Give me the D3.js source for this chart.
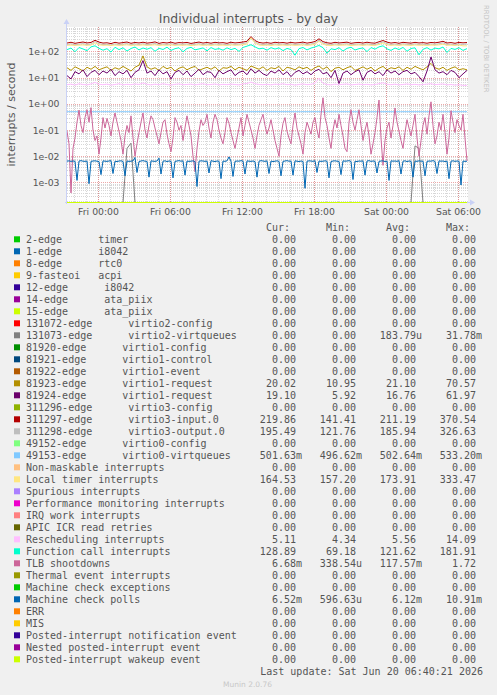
<!DOCTYPE html>
<html>
<head>
<meta charset="utf-8">
<script src="https://cdn.jsdelivr.net/npm/d3@7"></script>
<style>
  html, body { margin: 0; padding: 0; background: #f0f0f0; }
  svg { display: block; }
  text { fill: #555; }
  .mono { font-family: 'DejaVu Sans Mono', monospace; font-size: 10px; }
  .sans { font-family: 'DejaVu Sans', sans-serif; }
</style>
</head>
<body>
<svg class="canvas" width="497" height="695"></svg>
<script>
'use strict';

// ---- data ----
const parseTime = d3.timeParse('%Y-%m-%d %H:%M'),
  startTime = parseTime('2026-06-18 21:25'),
  endTime = parseTime('2026-06-20 06:45');

const xTickTimes = ['2026-06-19 00:00', '2026-06-19 06:00', '2026-06-19 12:00',
  '2026-06-19 18:00', '2026-06-20 00:00', '2026-06-20 06:00'];
const yTickValues = [1e-3, 1e-2, 1e-1, 1, 10, 100],
  yTickLabels = ['1e-03', '1e-02', '1e-01', '1e+00', '1e+01', '1e+02'];

const names = [
  '2-edge      timer',
  '1-edge      i8042',
  '8-edge      rtc0',
  '9-fasteoi   acpi',
  '12-edge      i8042',
  '14-edge      ata_piix',
  '15-edge      ata_piix',
  '131072-edge      virtio2-config',
  '131073-edge      virtio2-virtqueues',
  '81920-edge      virtio1-config',
  '81921-edge      virtio1-control',
  '81922-edge      virtio1-event',
  '81923-edge      virtio1-request',
  '81924-edge      virtio1-request',
  '311296-edge      virtio3-config',
  '311297-edge      virtio3-input.0',
  '311298-edge      virtio3-output.0',
  '49152-edge      virtio0-config',
  '49153-edge      virtio0-virtqueues',
  'Non-maskable interrupts',
  'Local timer interrupts',
  'Spurious interrupts',
  'Performance monitoring interrupts',
  'IRQ work interrupts',
  'APIC ICR read retries',
  'Rescheduling interrupts',
  'Function call interrupts',
  'TLB shootdowns',
  'Thermal event interrupts',
  'Machine check exceptions',
  'Machine check polls',
  'ERR',
  'MIS',
  'Posted-interrupt notification event',
  'Nested posted-interrupt event',
  'Posted-interrupt wakeup event',
];

const colors = [
  '#00CC00', '#0066B3', '#FF8000', '#FFCC00', '#330099', '#990099', '#CCFF00',
  '#FF0000', '#808080', '#008F00', '#00487D', '#B35A00', '#B38F00', '#6B006B',
  '#8FB300', '#B30000', '#BEBEBE', '#80FF80', '#80C9FF', '#FFC080', '#FFE680',
  '#AA80FF', '#EE00CC', '#FF8080', '#666600', '#FFBFFF', '#00FFCC', '#CC6699',
  '#999900', '#00CC00', '#0066B3', '#FF8000', '#FFCC00', '#330099', '#990099',
  '#CCFF00',
];

const curValues = ['0.00', '0.00', '0.00', '0.00', '0.00', '0.00', '0.00', '0.00', '0.00',
  '0.00', '0.00', '0.00', '20.02', '19.10', '0.00', '219.86', '195.49', '0.00', '501.63m',
  '0.00', '164.53', '0.00', '0.00', '0.00', '0.00', '5.11', '128.89', '6.68m', '0.00',
  '0.00', '6.52m', '0.00', '0.00', '0.00', '0.00', '0.00'];
const minValues = ['0.00', '0.00', '0.00', '0.00', '0.00', '0.00', '0.00', '0.00', '0.00',
  '0.00', '0.00', '0.00', '10.95', '5.92', '0.00', '141.41', '121.76', '0.00', '496.62m',
  '0.00', '157.20', '0.00', '0.00', '0.00', '0.00', '4.34', '69.18', '338.54u', '0.00',
  '0.00', '596.63u', '0.00', '0.00', '0.00', '0.00', '0.00'];
const avgValues = ['0.00', '0.00', '0.00', '0.00', '0.00', '0.00', '0.00', '0.00', '183.79u',
  '0.00', '0.00', '0.00', '21.10', '16.76', '0.00', '211.19', '185.94', '0.00', '502.64m',
  '0.00', '173.91', '0.00', '0.00', '0.00', '0.00', '5.56', '121.62', '117.57m', '0.00',
  '0.00', '6.12m', '0.00', '0.00', '0.00', '0.00', '0.00'];
const maxValues = ['0.00', '0.00', '0.00', '0.00', '0.00', '0.00', '0.00', '0.00', '31.78m',
  '0.00', '0.00', '0.00', '70.57', '61.97', '0.00', '370.54', '326.63', '0.00', '533.20m',
  '0.00', '333.47', '0.00', '0.00', '0.00', '0.00', '14.09', '181.91', '1.72', '0.00',
  '0.00', '10.91m', '0.00', '0.00', '0.00', '0.00', '0.00'];

// samples every 20 minutes from start to end (101 points)
const virtio3Input = [210, 225, 205, 218, 230, 212, 222, 268, 228, 210,
  215, 200, 224, 208, 219, 230, 205, 221, 212, 226,
  209, 217, 232, 204, 220, 211, 227, 206, 219, 214,
  222, 203, 216, 229, 210, 221, 207, 224, 213, 218,
  205, 226, 212, 219, 230, 245, 370, 260, 222, 210,
  218, 206, 225, 214, 220, 208, 223, 211, 217, 228,
  209, 221, 240, 305, 238, 215, 206, 224, 212, 219,
  227, 205, 216, 222, 210, 226, 213, 208, 235, 262,
  228, 210, 220, 206, 224, 215, 209, 223, 212, 218,
  207, 221, 214, 226, 245, 211, 219, 206, 223, 214, 220];
const virtio3Output = [185, 196, 180, 190, 199, 184, 192, 240, 198, 183,
  188, 176, 195, 181, 190, 200, 179, 193, 185, 197,
  182, 189, 202, 178, 192, 184, 198, 180, 191, 186,
  194, 177, 188, 199, 183, 193, 180, 195, 186, 190,
  179, 197, 185, 191, 201, 215, 326, 230, 194, 183,
  190, 179, 196, 186, 192, 181, 195, 184, 189, 199,
  182, 193, 210, 270, 208, 187, 179, 196, 185, 191,
  198, 178, 188, 194, 183, 197, 186, 181, 205, 232,
  199, 183, 192, 179, 196, 187, 182, 195, 185, 190,
  180, 193, 186, 197, 214, 184, 191, 179, 194, 187, 195];
const localTimer = [172, 175, 170, 174, 178, 171, 176, 215, 180, 172,
  174, 169, 177, 171, 175, 179, 170, 176, 172, 178,
  171, 174, 180, 169, 176, 172, 178, 170, 175, 173,
  177, 168, 174, 179, 171, 176, 170, 177, 172, 175,
  169, 178, 172, 175, 181, 195, 333, 210, 176, 171,
  175, 169, 178, 172, 176, 170, 177, 171, 174, 179,
  170, 176, 190, 245, 188, 173, 169, 177, 172, 175,
  178, 168, 174, 177, 171, 178, 172, 170, 186, 212,
  180, 171, 176, 169, 178, 173, 170, 177, 172, 175,
  169, 176, 173, 178, 190, 172, 175, 169, 177, 164, 165];
const functionCall = [118, 135, 98, 142, 125, 108, 150, 165, 132, 112,
  128, 95, 145, 118, 138, 104, 130, 148, 115, 136,
  122, 140, 102, 133, 119, 146, 110, 128, 139, 97,
  131, 144, 116, 125, 137, 106, 141, 120, 129, 112,
  138, 118, 132, 101, 143, 160, 181, 150, 126, 134,
  112, 140, 124, 137, 108, 131, 119, 72, 128, 142,
  115, 135, 150, 170, 140, 86, 127, 118, 139, 104,
  132, 145, 114, 128, 137, 99, 141, 123, 150, 165,
  126, 110, 136, 119, 143, 102, 130, 138, 75, 121,
  140, 113, 135, 126, 148, 92, 131, 120, 139, 110, 129];
const virtio1Req23 = [24, 19, 26, 22, 18, 25, 21, 27, 20, 23,
  26, 19, 24, 21, 27, 22, 18, 25, 30, 68,
  26, 21, 24, 19, 27, 22, 25, 18, 23, 26,
  20, 24, 27, 19, 22, 25, 21, 26, 18, 24,
  23, 27, 20, 25, 22, 19, 28, 24, 21, 26,
  19, 24, 22, 27, 18, 25, 23, 20, 26, 22,
  25, 19, 24, 28, 21, 26, 17, 23, 25, 20,
  24, 27, 19, 22, 26, 21, 25, 18, 23, 27,
  20, 24, 22, 26, 19, 25, 21, 27, 23, 20,
  26, 35, 24, 21, 25, 19, 23, 26, 20, 22, 20];
const virtio1Req24 = [12, 9, 17, 14, 20, 11, 16, 19, 13, 18,
  15, 21, 12, 17, 14, 19, 10, 16, 20, 45,
  15, 18, 12, 20, 14, 17, 9, 16, 19, 13,
  18, 11, 15, 21, 13, 17, 16, 10, 19, 14,
  17, 20, 12, 16, 18, 13, 22, 15, 19, 14,
  12, 18, 15, 20, 13, 17, 11, 16, 19, 14,
  17, 13, 18, 21, 14, 16, 10, 19, 6, 15,
  18, 13, 17, 20, 8, 16, 19, 14, 17, 12,
  20, 15, 18, 13, 17, 19, 14, 16, 11, 7,
  18, 62, 20, 15, 17, 13, 19, 16, 10, 14, 19];
const rescheduling = [5.4, 5.7, 5.2, 5.9, 5.5, 5.3, 5.8, 6.6, 5.6, 5.4,
  5.7, 5.2, 5.5, 5.9, 5.3, 5.6, 5.4, 5.8, 5.5, 6.3,
  5.6, 5.3, 5.7, 5.4, 5.9, 5.5, 5.2, 5.6, 5.8, 5.4,
  5.5, 5.7, 5.3, 5.6, 5.9, 5.4, 5.5, 5.8, 5.3, 5.6,
  5.4, 5.7, 5.5, 5.3, 5.8, 6.0, 6.8, 5.9, 5.5, 5.4,
  5.6, 5.3, 5.7, 5.5, 5.9, 5.4, 5.6, 5.2, 5.5, 5.8,
  5.4, 5.6, 6.2, 9.5, 6.1, 5.5, 5.3, 5.7, 5.4, 5.6,
  5.8, 5.3, 5.5, 5.7, 5.4, 5.6, 5.3, 5.5, 5.9, 6.4,
  5.6, 5.4, 5.7, 5.3, 5.5, 5.8, 5.4, 5.6, 5.3, 5.5,
  5.7, 5.9, 5.4, 5.6, 5.8, 5.3, 5.5, 5.2, 5.4, 5.1, 5.1];
const virtio2Queues = [0, 0, 0, 0, 0, 0, 0, 0, 0, 0,
  0, 0, 0, 0, 0, 0.02, 0.0318, 0, 0, 0,
  0, 0, 0, 0, 0, 0, 0, 0, 0, 0,
  0, 0, 0, 0, 0, 0, 0, 0, 0, 0,
  0, 0, 0, 0, 0, 0, 0, 0, 0, 0,
  0, 0, 0, 0, 0, 0, 0, 0, 0, 0,
  0, 0, 0, 0, 0, 0, 0, 0, 0, 0,
  0, 0, 0, 0, 0, 0, 0, 0, 0, 0,
  0, 0, 0, 0, 0, 0, 0, 0.025, 0.02, 0,
  0, 0, 0, 0, 0, 0, 0, 0, 0, 0, 0];
// TLB shootdowns: every 10 minutes (201 points)
const tlbShootdowns = [
  0.09, 0.03, 0.0004, 0.02, 0.05, 0.2, 0.58, 0.15, 0.08, 0.3,
  0.6, 0.2, 0.72, 0.1, 0.04, 0.06, 0.012, 0.05, 0.3, 0.12,
  0.28, 0.15, 0.06, 0.2, 0.45, 0.2, 0.09, 0.04, 0.012, 0.06,
  0.15, 0.08, 0.35, 0.05, 0.01, 0.03, 0.08, 0.2, 0.45, 0.1,
  0.05, 0.15, 0.35, 0.25, 0.12, 0.06, 0.03, 0.08, 0.2, 0.25,
  0.07, 0.03, 0.015, 0.05, 0.3, 0.2, 0.1, 0.15, 0.04, 0.12,
  0.35, 0.15, 0.06, 0.01, 0.0026, 0.02, 0.09, 0.25, 0.15, 0.2,
  0.4, 0.12, 0.05, 0.2, 0.4, 0.25, 0.1, 0.05, 0.03, 0.08,
  0.3, 0.18, 0.08, 0.04, 0.02, 0.05, 0.12, 0.3, 0.06, 0.15,
  0.4, 0.2, 0.1, 0.05, 0.02, 0.06, 0.15, 0.25, 0.4, 0.15,
  0.07, 0.12, 0.25, 0.1, 0.04, 0.02, 0.01, 0.06, 0.18, 0.3,
  0.09, 0.05, 0.03, 0.15, 0.45, 0.12, 0.06, 0.03, 0.012, 0.08,
  0.2, 0.12, 0.07, 0.2, 0.3, 0.1, 0.05, 0.4, 1.72, 0.3,
  0.15, 0.05, 0.02, 0.1, 0.25, 0.12, 0.4, 0.15, 0.06, 0.02,
  0.015, 0.2, 0.6, 0.2, 0.1, 0.25, 0.6, 0.15, 0.04, 0.1,
  0.2, 0.06, 0.012, 0.03, 0.08, 0.3, 1.4, 0.05, 0.0045, 0.04,
  0.12, 0.2, 0.05, 0.15, 0.7, 0.2, 0.09, 0.04, 0.02, 0.08,
  0.25, 0.12, 0.06, 0.15, 0.4, 0.05, 0.01, 0.04, 0.15, 0.3,
  0.07, 0.35, 1.2, 0.15, 0.03, 0.06, 0.2, 0.1, 0.4, 0.08,
  0.012, 0.05, 0.55, 0.2, 0.08, 0.25, 0.15, 0.1, 0.4, 0.05,
  0.0067];
// machine check polls: every 10 minutes (201 points), hourly dip
const mcePolls = [
  0.0065, 0.0067, 0.0064, 0.0066, 0.0065, 0.0012,
  0.0066, 0.0068, 0.0065, 0.0064, 0.0066, 0.0009,
  0.0064, 0.0066, 0.0067, 0.0065, 0.0063, 0.002,
  0.0067, 0.0065, 0.0064, 0.0066, 0.0068, 0.0022,
  0.0065, 0.0063, 0.0066, 0.0067, 0.0064, 0.0018,
  0.0066, 0.0064, 0.0065, 0.0067, 0.009, 0.0024,
  0.0063, 0.0066, 0.0068, 0.0065, 0.0064, 0.0016,
  0.0067, 0.0065, 0.0064, 0.0066, 0.0085, 0.0021,
  0.0065, 0.0067, 0.0063, 0.0066, 0.0065, 0.0015,
  0.0064, 0.0066, 0.0068, 0.0065, 0.0067, 0.0019,
  0.0066, 0.0064, 0.0065, 0.0067, 0.0063, 0.0007,
  0.0065, 0.0067, 0.0066, 0.0064, 0.0066, 0.0023,
  0.0068, 0.0065, 0.0063, 0.0066, 0.0065, 0.0014,
  0.0066, 0.0064, 0.0067, 0.0095, 0.0065, 0.0017,
  0.0064, 0.0066, 0.0065, 0.0068, 0.0066, 0.0021,
  0.0067, 0.0065, 0.0064, 0.0066, 0.0063, 0.0016,
  0.0065, 0.0068, 0.0066, 0.0064, 0.0067, 0.0022,
  0.0066, 0.0063, 0.0065, 0.0067, 0.0064, 0.0018,
  0.0064, 0.0066, 0.0068, 0.0065, 0.0066, 0.0019,
  0.0067, 0.0065, 0.0063, 0.0066, 0.0064, 0.0006,
  0.0065, 0.0067, 0.0066, 0.0064, 0.0068, 0.0024,
  0.0066, 0.0064, 0.0065, 0.0067, 0.0065, 0.0015,
  0.0063, 0.0066, 0.0067, 0.0065, 0.0064, 0.002,
  0.0067, 0.0065, 0.0066, 0.0068, 0.0064, 0.0013,
  0.0065, 0.0063, 0.0066, 0.0065, 0.0067, 0.0019,
  0.0066, 0.0068, 0.0064, 0.0066, 0.0065, 0.0023,
  0.0064, 0.0066, 0.0067, 0.0063, 0.0066, 0.0012,
  0.0067, 0.0065, 0.0066, 0.0064, 0.0068, 0.0021,
  0.0065, 0.0067, 0.0063, 0.0066, 0.0065, 0.0016,
  0.0066, 0.0064, 0.0067, 0.0065, 0.0066, 0.0018,
  0.0064, 0.0066, 0.0065, 0.0068, 0.0064, 0.0022,
  0.0067, 0.0065, 0.0066, 0.0063, 0.0066, 0.0014,
  0.0065, 0.0067, 0.0064, 0.0066, 0.0065, 0.0008,
  0.0066, 0.0064, 0.0065];
// virtio0-virtqueues, sampled every ~2h47m (13 points)
const virtio0Queues = [0.502, 0.503, 0.5, 0.505, 0.502, 0.501, 0.504, 0.502, 0.503, 0.5,
  0.502, 0.501, 0.502];
// every other counter sat at zero all day
const idleLine = [0, 0];

const sampleTable = {
  8: virtio2Queues, 12: virtio1Req23, 13: virtio1Req24, 15: virtio3Input,
  16: virtio3Output, 18: virtio0Queues, 20: localTimer, 25: rescheduling,
  26: functionCall, 27: tlbShootdowns, 30: mcePolls,
};

// ---- layout ----
const svg = d3.select('.canvas'),
  plot = { left: 67, right: 467, top: 27, bottom: 202 },
  legendTop = 239.3,
  rowH = 12,
  colEnds = [302, 362, 422, 482],
  axisColor = '#c9d1f6',
  minorColor = 'rgba(150,150,150,0.38)',
  majorColor = 'rgba(220,80,80,0.5)';

const x = d3.scaleTime([startTime, endTime], [plot.left, plot.right]),
  y = d3.scaleLog([1.8e-4, 861], [plot.bottom, plot.top]).clamp(true);

// zeros can't sit on a log axis: rrdtool pins them to the bottom row
function yOf(v) {
  return v > 0 ? y(v) : plot.bottom + 0.5;
}
// keep runs of spaces in monospace text
const nb = s => s.replace(/ /g, '\u00a0');

svg.append('rect').attr('width', 497).attr('height', 695).attr('fill', '#f0f0f0');
svg
  .append('rect')
  .attr('x', plot.left)
  .attr('y', plot.top)
  .attr('width', plot.right - plot.left + 1)
  .attr('height', plot.bottom - plot.top)
  .attr('fill', '#fff');

// grid: minor first, major on top
const grid = svg.append('g').attr('shape-rendering', 'crispEdges');
const minorY = [];
for (let e = -4; e <= 2; e++)
  for (let m = 2; m <= 9; m++) {
    const v = m * Math.pow(10, e);
    if (v > y.domain()[0] && v < y.domain()[1]) minorY.push(v);
  }
const minorX = d3.timeHour.range(startTime, endTime),
  majorX = xTickTimes.map(parseTime);

function hLines(data, color) {
  grid
    .append('g')
    .selectAll('line')
    .data(data)
    .enter()
    .append('line')
    .attr('x1', plot.left)
    .attr('x2', plot.right + 1)
    .attr('y1', d => Math.round(y(d)) + 0.5)
    .attr('y2', d => Math.round(y(d)) + 0.5)
    .attr('stroke', color)
    .attr('stroke-dasharray', '1,1');
}
function vLines(data, color) {
  grid
    .append('g')
    .selectAll('line')
    .data(data)
    .enter()
    .append('line')
    .attr('x1', d => Math.round(x(d)) + 0.5)
    .attr('x2', d => Math.round(x(d)) + 0.5)
    .attr('y1', plot.top)
    .attr('y2', plot.bottom)
    .attr('stroke', color)
    .attr('stroke-dasharray', '1,1');
}
hLines(minorY, minorColor);
vLines(minorX, minorColor);
hLines(yTickValues, majorColor);
vLines(majorX, majorColor);

// axes with arrows
svg
  .append('line')
  .attr('x1', plot.left - 0.5)
  .attr('x2', plot.left - 0.5)
  .attr('y1', plot.bottom + 2)
  .attr('y2', plot.top - 4)
  .attr('stroke', axisColor);
svg
  .append('path')
  .attr('d', `M${plot.left - 3.5},${plot.top - 3} L${plot.left - 0.5},${plot.top - 8} L${plot.left + 2.5},${plot.top - 3} Z`)
  .attr('fill', axisColor);
svg
  .append('line')
  .attr('x1', plot.left - 2)
  .attr('x2', plot.right + 4)
  .attr('y1', plot.bottom + 0.5)
  .attr('y2', plot.bottom + 0.5)
  .attr('stroke', axisColor);
svg
  .append('path')
  .attr('d', `M${plot.right + 3},${plot.bottom - 2.5} L${plot.right + 8},${plot.bottom + 0.5} L${plot.right + 3},${plot.bottom + 3.5} Z`)
  .attr('fill', axisColor);

// tick labels
const xAxis = svg
  .append('g')
  .attr('transform', `translate(0, ${plot.bottom})`)
  .call(
    d3.axisBottom(x).tickValues(majorX).tickFormat(d3.timeFormat('%a %H:%M')).tickSize(0).tickPadding(6)
  );
const yAxis = svg
  .append('g')
  .attr('transform', `translate(${plot.left}, 0)`)
  .call(
    d3.axisLeft(y).tickValues(yTickValues).tickFormat((d, i) => yTickLabels[i]).tickSize(0).tickPadding(7.5)
  );
[xAxis, yAxis].forEach(g => {
  g.select('.domain').remove();
  g.selectAll('text')
    .attr('class', 'sans')
    .style('font-size', '9.3px')
    .style('fill', '#555');
});

// series, drawn in legend order like rrdtool does
svg
  .append('clipPath')
  .attr('id', 'plot-clip')
  .append('rect')
  .attr('x', plot.left)
  .attr('y', plot.top - 1)
  .attr('width', plot.right - plot.left + 1)
  .attr('height', plot.bottom - plot.top + 2);

const series = names.map((name, i) => ({
  name,
  color: colors[i],
  values: sampleTable[i] || idleLine,
}));

const span = endTime - startTime;
series.forEach(s => {
  const n = s.values.length,
    line = d3
      .line()
      .x((d, i) => x(new Date(+startTime + (span * i) / (n - 1))))
      .y(d => yOf(d));
  svg
    .append('path')
    .attr('clip-path', 'url(#plot-clip)')
    .attr('d', line(s.values))
    .attr('fill', 'none')
    .attr('stroke', s.color)
    .attr('stroke-width', 1)
    .attr('stroke-linejoin', 'round');
});

// titles
svg
  .append('text')
  .attr('class', 'sans')
  .attr('x', 248.5)
  .attr('y', 22.5)
  .attr('text-anchor', 'middle')
  .style('font-size', '12.4px')
  .text('Individual interrupts - by day');
svg
  .append('text')
  .attr('class', 'sans')
  .attr('transform', `translate(11.5, ${(plot.top + plot.bottom) / 2}) rotate(-90)`)
  .attr('text-anchor', 'middle')
  .attr('dominant-baseline', 'central')
  .style('font-size', '11px')
  .text('interrupts / second');
svg
  .append('text')
  .attr('class', 'sans')
  .attr('transform', 'translate(486, 5) rotate(90)')
  .attr('dominant-baseline', 'central')
  .style('font-size', '6.8px')
  .style('fill', '#c4c4c4')
  .text('RRDTOOL / TOBI OETIKER');

// legend
const legend = svg.append('g').attr('class', 'mono');
const pad = s => (/[0-9]$/.test(s) ? s + '\u00a0' : s);

['Cur:', 'Min:', 'Avg:', 'Max:'].forEach((h, c) =>
  legend
    .append('text')
    .attr('x', colEnds[c] - 12)
    .attr('y', legendTop - rowH + 3.6)
    .attr('text-anchor', 'end')
    .text(h)
);

const rows = legend
  .selectAll('.row')
  .data(series)
  .enter()
  .append('g')
  .attr('transform', (d, i) => `translate(0, ${legendTop + i * rowH})`);
rows
  .append('rect')
  .attr('x', 14)
  .attr('y', -3)
  .attr('width', 6)
  .attr('height', 6)
  .attr('fill', d => d.color);
rows
  .append('text')
  .attr('x', 26)
  .attr('y', 3.6)
  .text(d => nb(d.name));
[curValues, minValues, avgValues, maxValues].forEach((col, c) =>
  rows
    .append('text')
    .attr('x', colEnds[c])
    .attr('y', 3.6)
    .attr('text-anchor', 'end')
    .text((d, i) => pad(col[i]))
);

legend
  .append('text')
  .attr('x', 483)
  .attr('y', legendTop + names.length * rowH + 3.6)
  .attr('text-anchor', 'end')
  .text(nb('Last update: Sat Jun 20 06:40:21 2026'));

svg
  .append('text')
  .attr('class', 'sans')
  .attr('x', 247.5)
  .attr('y', 687)
  .attr('text-anchor', 'middle')
  .style('font-size', '7.5px')
  .style('fill', '#c8c8c8')
  .text('Munin 2.0.76');
</script>
</body>
</html>
